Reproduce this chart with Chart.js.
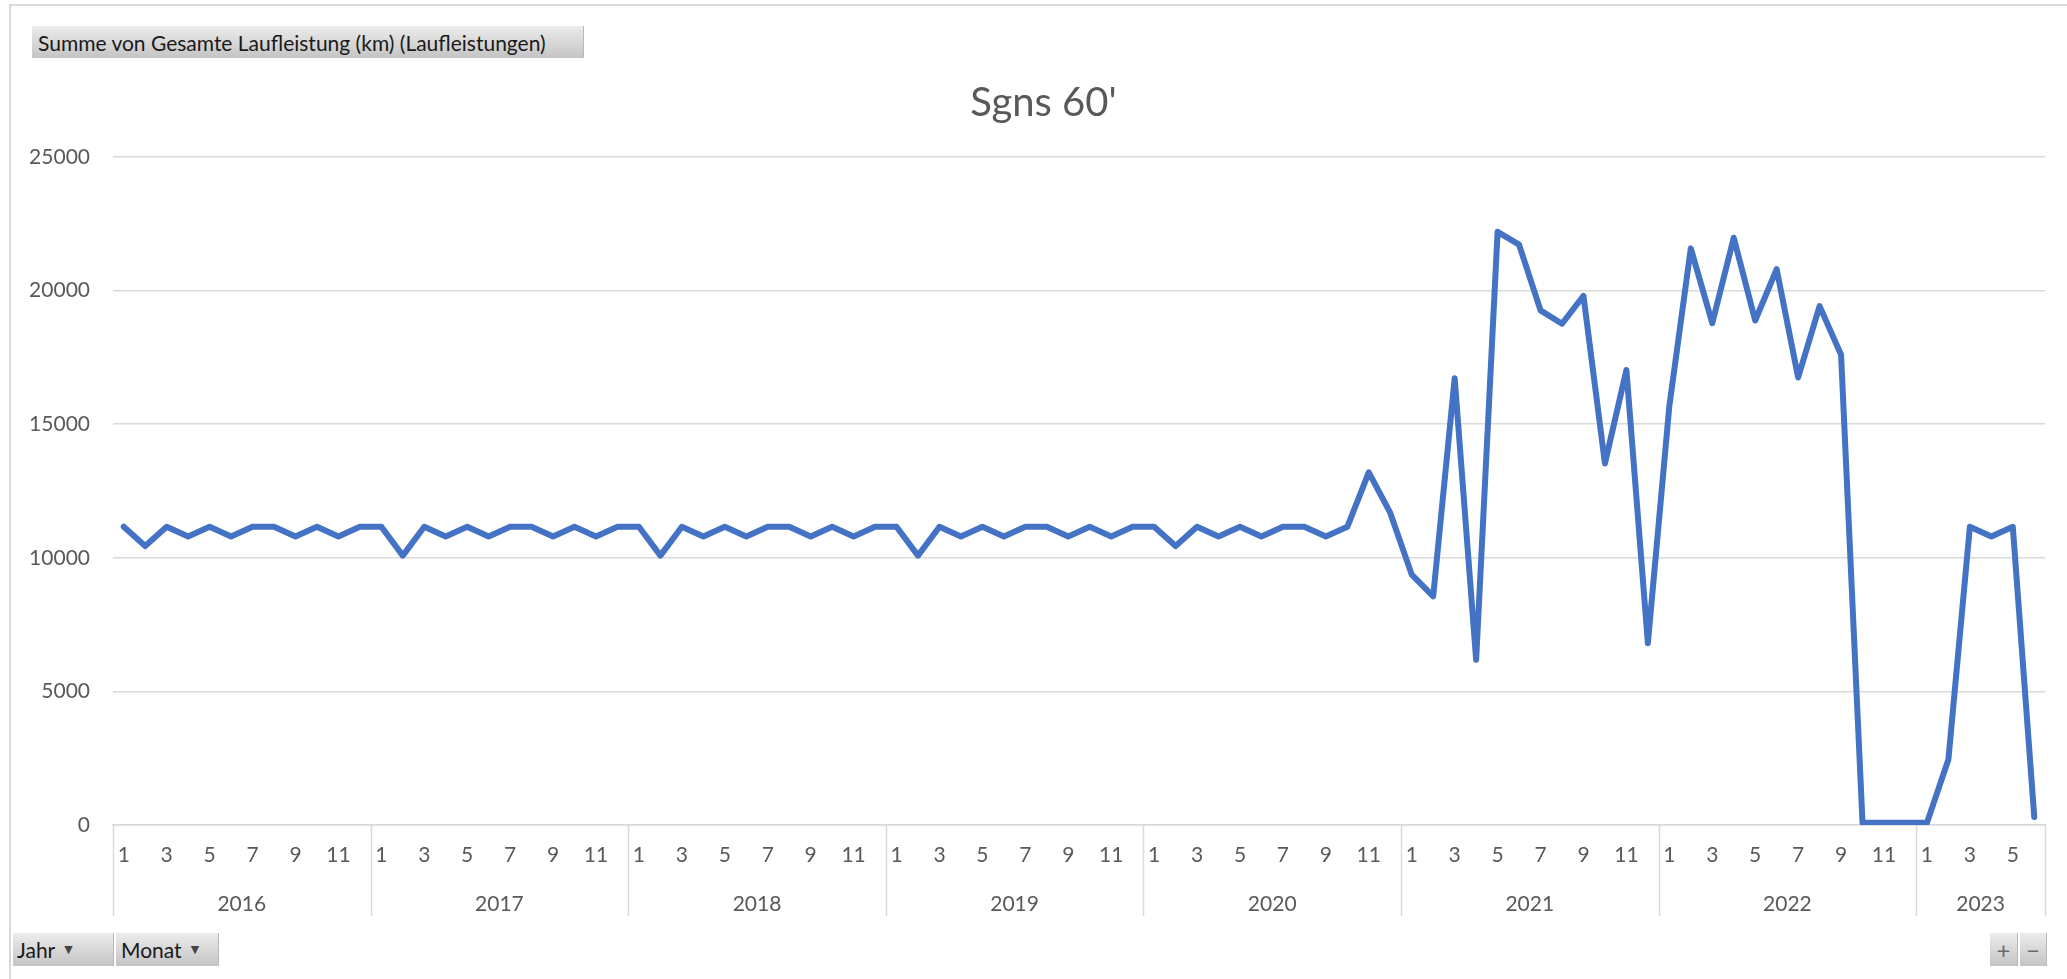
<!DOCTYPE html>
<html lang="de">
<head>
<meta charset="utf-8">
<title>Sgns 60'</title>
<script src="https://cdn.jsdelivr.net/npm/chart.js@4.4.0/dist/chart.umd.min.js"></script>
<style>
  html, body { margin: 0; padding: 0; background: #ffffff; overflow: hidden; }
  #wrap { position: relative; width: 2067px; height: 979px; }
  #chart { position: absolute; left: 0; top: 0; }
  .frame { position: absolute; left: 9px; top: 4px; width: 2100px; height: 1000px;
           border-top: 2px solid #d9d9d9; border-left: 2px solid #d9d9d9; box-sizing: border-box; }
  .btn { position: absolute; box-sizing: border-box; font-family: Lato, "Noto Sans", sans-serif;
         color: #1a1a1a; background: linear-gradient(#ececec, #c4c4c4);
         border-right: 1px solid #b8b8b8; white-space: nowrap; display: flex; align-items: center; }
  .arrow { font-size: 11px; color: #444; margin-left: 9px; font-family: "DejaVu Sans", sans-serif; }
  .pm { justify-content: center; color: #6b6b6b; font-size: 24px; }
</style>
</head>
<body>
<div id="wrap">
  <div class="frame"></div>
  <canvas id="chart" width="2067" height="979"></canvas>
  <div class="btn" style="left:32px; top:26px; width:552px; height:32px; font-size:21px; padding-left:6px;">Summe von Gesamte Laufleistung (km) (Laufleistungen)</div>
  <div class="btn" style="left:13px; top:933px; width:101px; height:33px; font-size:21px; padding-left:4px;">Jahr<span class="arrow">▼</span></div>
  <div class="btn" style="left:116px; top:933px; width:103px; height:33px; font-size:21px; padding-left:5px;">Monat<span class="arrow">▼</span></div>
  <div class="btn pm" style="left:1990px; top:933px; width:28px; height:33px;">+</div>
  <div class="btn pm" style="left:2020px; top:933px; width:27px; height:33px;">−</div>
</div>
<script>
// Jahre und Anzahl der Monate je Jahr (2023 bis Juni)
const years = ['2016', '2017', '2018', '2019', '2020', '2021', '2022', '2023'];
const monthsPerYear = [12, 12, 12, 12, 12, 12, 12, 6];

// Summe der Laufleistung (km) je Monat
const km2016 = [11160, 10440, 11160, 10800, 11160, 10800, 11160, 11160, 10800, 11160, 10800, 11160];
const km2017 = [11160, 10080, 11160, 10800, 11160, 10800, 11160, 11160, 10800, 11160, 10800, 11160];
const km2018 = [11160, 10080, 11160, 10800, 11160, 10800, 11160, 11160, 10800, 11160, 10800, 11160];
const km2019 = [11160, 10080, 11160, 10800, 11160, 10800, 11160, 11160, 10800, 11160, 10800, 11160];
const km2020 = [11160, 10440, 11160, 10800, 11160, 10800, 11160, 11160, 10800, 11160, 13200, 11680];
const km2021 = [9370, 8560, 16720, 6180, 22200, 21720, 19260, 18760, 19800, 13530, 17030, 6800];
const km2022 = [15680, 21580, 18780, 21980, 18880, 20800, 16750, 19420, 17600, 80, 80, 80];
const km2023 = [80, 2450, 11160, 10800, 11160, 300];

// Achsenbeschriftung der Y-Achse
const yTicks = [0, 5000, 10000, 15000, 20000, 25000];

const values = [].concat(km2016, km2017, km2018, km2019, km2020, km2021, km2022, km2023);
const monthLabels = [];
monthsPerYear.forEach((n) => {
  for (let m = 1; m <= n; m++) monthLabels.push(String(m));
});

const FONT_FAMILY = 'Lato, "Noto Sans", sans-serif';
const AXIS_FONT = { family: FONT_FAMILY, size: 21 };
const TEXT_GREY = '#595959';
const GRID_GREY = '#d9d9d9';

// Titel etwas nach rechts, mittig über dem gesamten Diagrammobjekt
const titleShift = {
  id: 'titleShift',
  afterLayout(chart) {
    if (chart.titleBlock) chart.titleBlock.left += 42;
  }
};

// Zweite Kategorieebene (Jahr) unter den Monaten mit Trennlinien
const yearLevel = {
  id: 'yearLevel',
  afterDraw(chart) {
    const x = chart.scales.x;
    const area = chart.chartArea;
    const ctx = chart.ctx;
    const step = x.getPixelForValue(1) - x.getPixelForValue(0);
    const lineBottom = area.bottom + 91;
    ctx.save();
    ctx.strokeStyle = GRID_GREY;
    ctx.lineWidth = 1.5;
    ctx.fillStyle = TEXT_GREY;
    ctx.font = AXIS_FONT.size + 'px ' + FONT_FAMILY;
    ctx.textAlign = 'center';
    ctx.textBaseline = 'middle';
    let start = 0;
    let right = area.left;
    years.forEach((yr, k) => {
      const n = monthsPerYear[k];
      const left = x.getPixelForValue(start) - step / 2;
      right = x.getPixelForValue(start + n - 1) + step / 2;
      ctx.beginPath();
      ctx.moveTo(Math.round(left) + 0.5, area.bottom);
      ctx.lineTo(Math.round(left) + 0.5, lineBottom);
      ctx.stroke();
      ctx.fillText(yr, (left + right) / 2, area.bottom + 79);
      start += n;
    });
    ctx.beginPath();
    ctx.moveTo(Math.round(right) + 0.5, area.bottom);
    ctx.lineTo(Math.round(right) + 0.5, lineBottom);
    ctx.stroke();
    ctx.restore();
  }
};

function draw() {
  new Chart(document.getElementById('chart'), {
    type: 'line',
    data: {
      labels: monthLabels,
      datasets: [{
        label: 'Summe von Gesamte Laufleistung (km)',
        data: values,
        borderColor: '#4472C4',
        backgroundColor: '#4472C4',
        borderWidth: 6,
        pointRadius: 0,
        pointHoverRadius: 0,
        tension: 0,
        fill: false,
        borderJoinStyle: 'round',
        borderCapStyle: 'round'
      }]
    },
    options: {
      responsive: false,
      animation: false,
      devicePixelRatio: 1,
      layout: { padding: { left: 0, right: 22, top: 0, bottom: 0 } },
      plugins: {
        legend: { display: false },
        tooltip: { enabled: false },
        title: {
          display: true,
          text: "Sgns 60'",
          color: TEXT_GREY,
          font: { family: FONT_FAMILY, size: 40, weight: 'normal' },
          padding: { top: 79, bottom: 30 }
        }
      },
      scales: {
        x: {
          type: 'category',
          offset: true,
          grid: { display: false, drawTicks: false },
          border: { display: true, color: GRID_GREY, width: 1.5 },
          ticks: {
            autoSkip: false,
            maxRotation: 0,
            minRotation: 0,
            padding: 18,
            color: TEXT_GREY,
            font: AXIS_FONT,
            callback: function (value) {
              const m = Number(this.getLabelForValue(value));
              return m % 2 === 1 ? String(m) : '';
            }
          },
          afterFit: (s) => { s.height = 154; }
        },
        y: {
          min: 0,
          max: 25000,
          afterBuildTicks: (s) => { s.ticks = yTicks.map(v => ({ value: v })); },
          grid: { color: GRID_GREY, lineWidth: 1.5, drawTicks: false },
          border: { display: false },
          ticks: {
            padding: 23,
            color: TEXT_GREY,
            font: AXIS_FONT,
            callback: (v) => String(v)
          },
          afterFit: (s) => { s.width = 113; }
        }
      }
    },
    plugins: [titleShift, yearLevel]
  });
}

if (document.fonts && document.fonts.load) {
  Promise.all([document.fonts.load('21px Lato'), document.fonts.load('40px Lato')])
    .then(draw, draw);
} else {
  draw();
}
</script>
</body>
</html>
